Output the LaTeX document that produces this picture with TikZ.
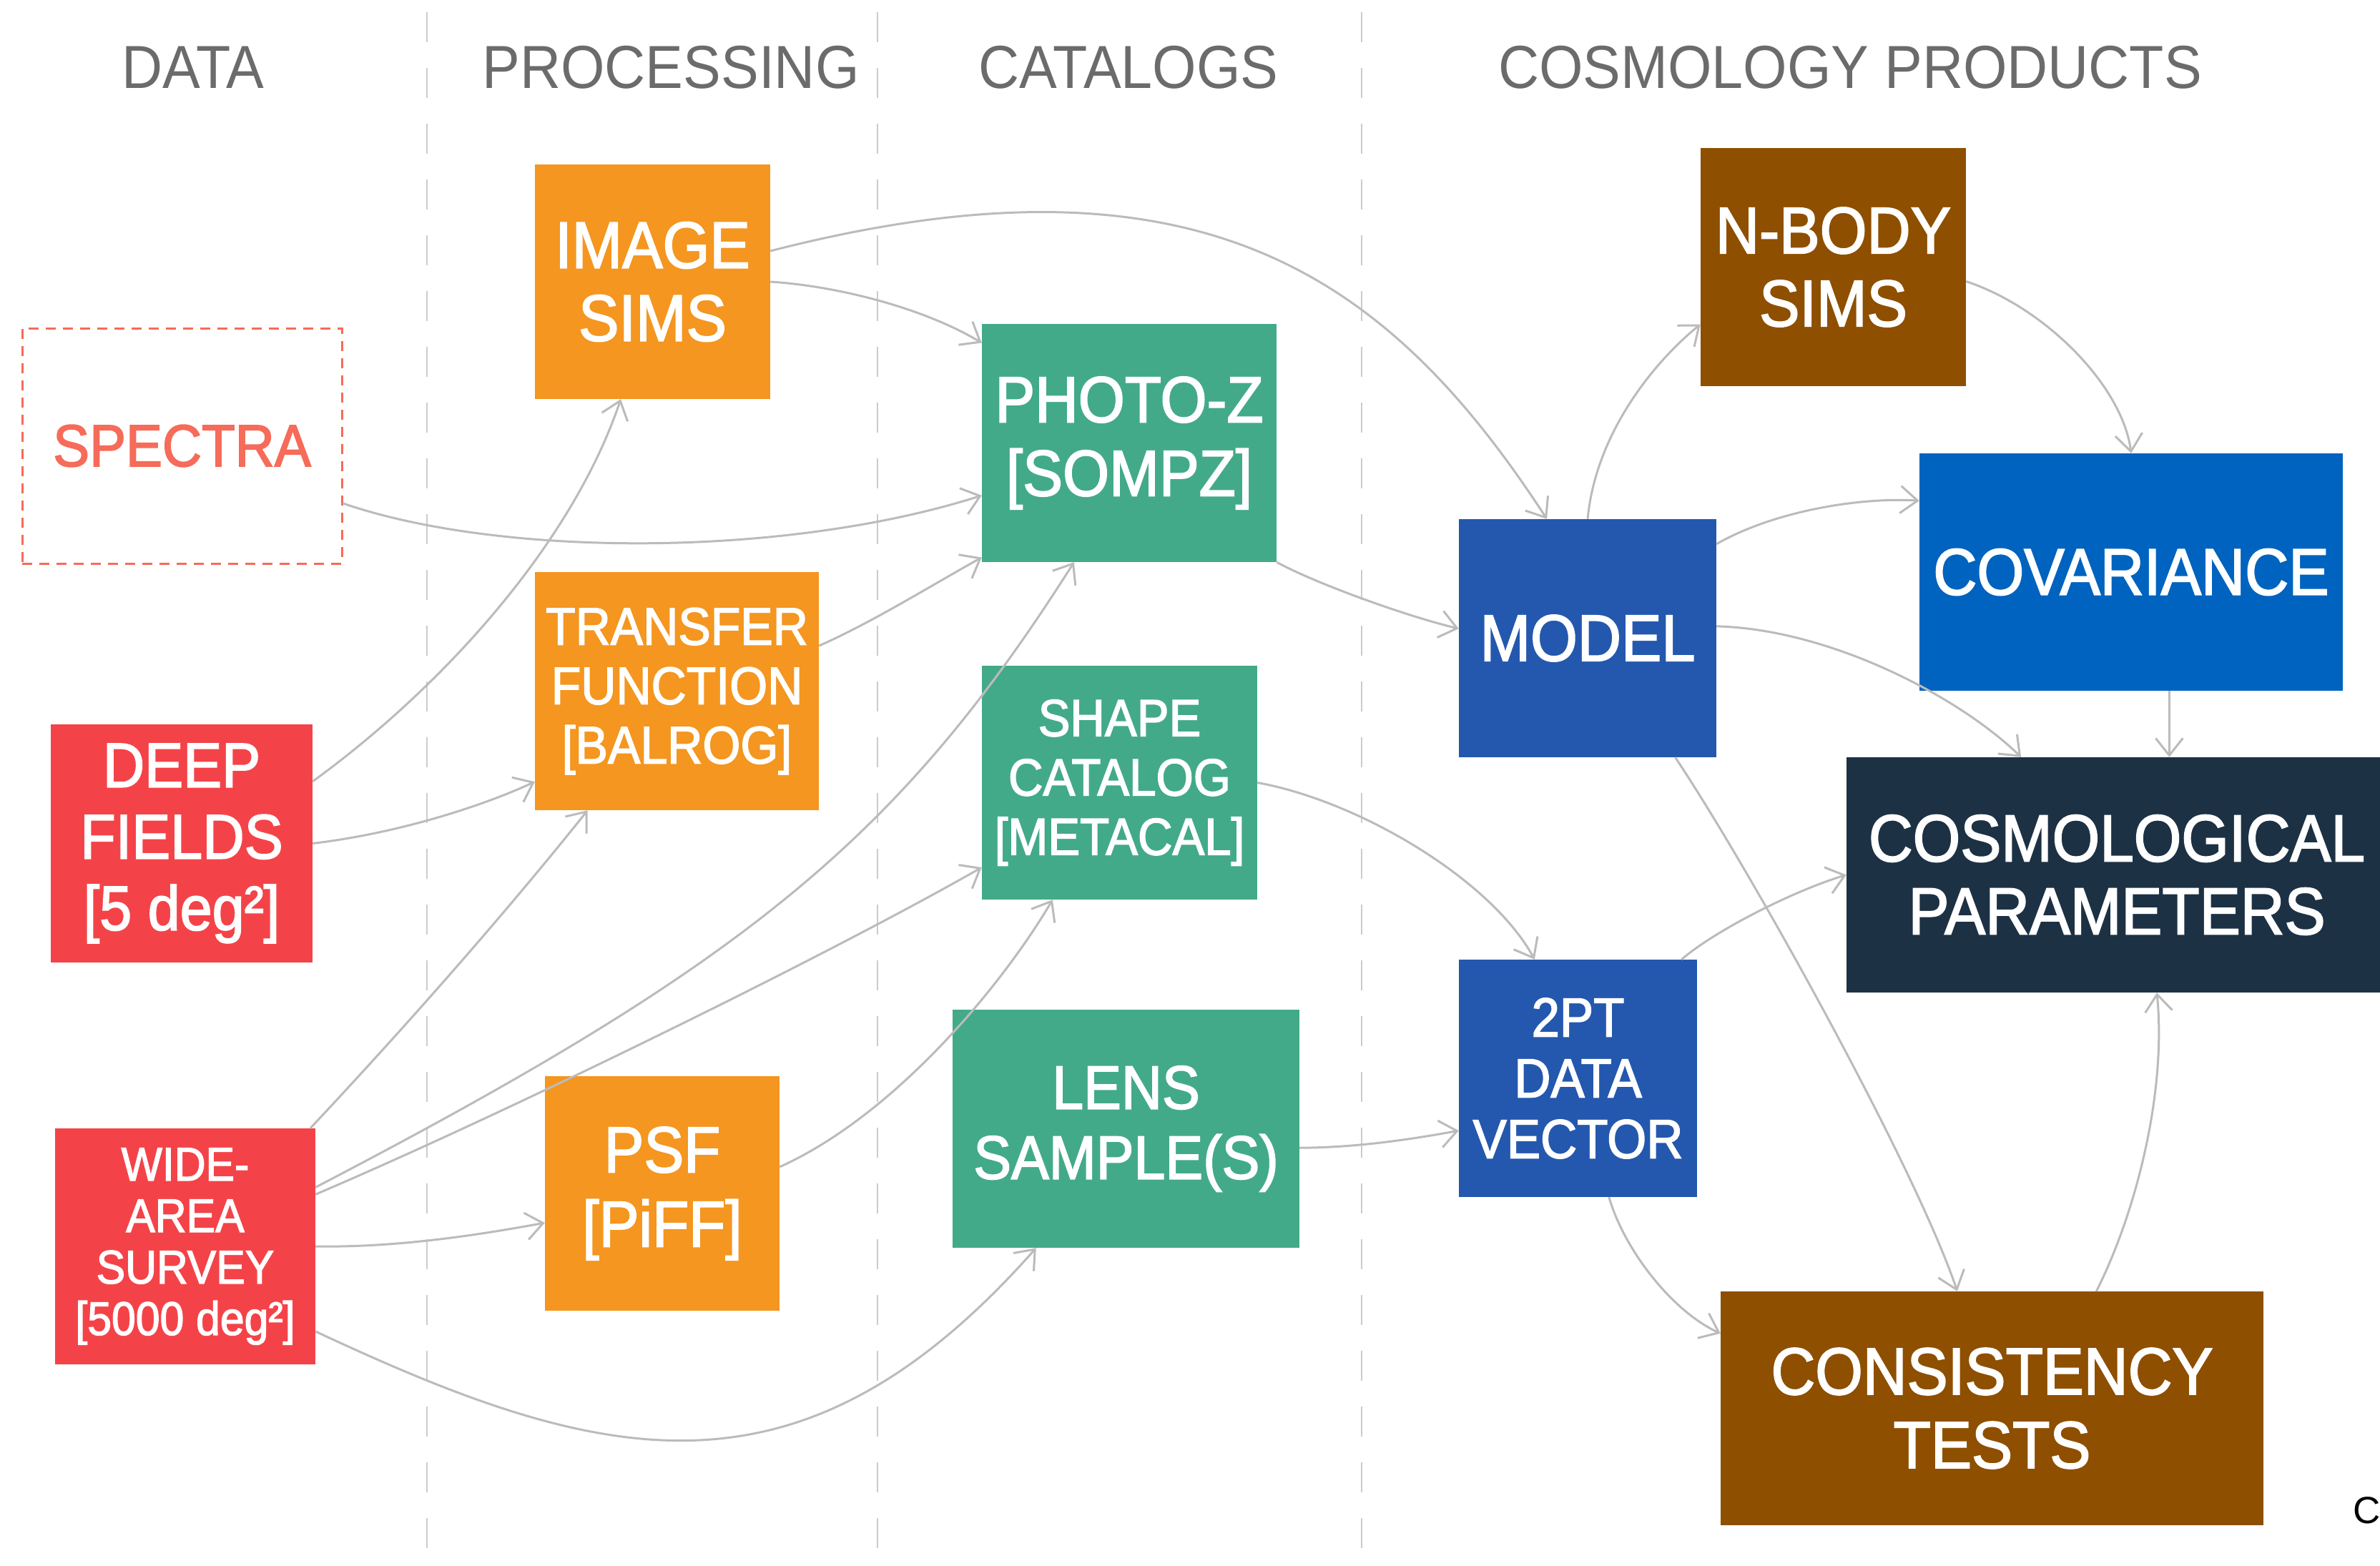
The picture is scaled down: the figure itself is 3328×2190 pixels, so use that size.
\documentclass[tikz,border=0pt]{standalone}
\usepackage{fontspec}
\setmainfont{Liberation Sans}
\newfontfamily\boxfont[FakeStretch=0.92,FakeBold=2]{Liberation Sans}
\newfontfamily\hdrfont[FakeStretch=0.93]{Liberation Sans}
\usetikzlibrary{arrows.meta,calc}

\definecolor{dataRed}{HTML}{F44348}
\definecolor{specRed}{HTML}{F66B59}
\definecolor{procOrange}{HTML}{F4961F}
\definecolor{catGreen}{HTML}{43AA89}
\definecolor{modelBlue}{HTML}{2458AE}
\definecolor{covBlue}{HTML}{0063BF}
\definecolor{simBrown}{HTML}{8E4F00}
\definecolor{paramNavy}{HTML}{1D3144}
\definecolor{hdrGray}{HTML}{6B6B6B}
\definecolor{arrowGray}{HTML}{BBBBBB}
\definecolor{sepGray}{HTML}{CCCCCC}

\begin{document}
\begin{tikzpicture}[x=1pt,y=-1pt,
  box/.style={rectangle, inner sep=0pt, align=center, text=white},
  fs/.style n args={2}{font=\boxfont\fontsize{#1}{#2}\selectfont},
  flow/.style={draw=arrowGray, line width=3pt, -{Straight Barb[length=24pt,width=38pt]}},
  sep/.style={draw=sepGray, line width=2.5pt, dash pattern=on 42pt off 36pt},
  hdr/.style={text=hdrGray, anchor=base, inner sep=0pt, font=\hdrfont\fontsize{85}{95}\selectfont}
]
\useasboundingbox (0,0) rectangle (3328,2190);
\fill[white] (0,0) rectangle (3328,2190);

% column separators
\draw[sep] (597,17) -- (597,2190);
\draw[sep] (1227,17) -- (1227,2190);
\draw[sep] (1904,17) -- (1904,2190);

% column headings
\node[hdr] (hData) at (270,123) {DATA};
\node[hdr] (hProc) at (938,123) {PROCESSING};
\node[hdr] (hCat) at (1578,123) {CATALOGS};
\node[hdr] (hCosmo) at (2587,123) {COSMOLOGY PRODUCTS};

% data
\node[rectangle, inner sep=0pt, draw=specRed, line width=3pt, dash pattern=on 14pt off 10pt,
      text=specRed, fs={83}{90},
      minimum width=447pt, minimum height=329pt] (spec) at (254.5,623.5) {SPECTRA};
\node[box, fill=dataRed, minimum width=366pt, minimum height=333pt,
      fs={88}{100}] (df) at (254,1179.5) {DEEP\\FIELDS\\{[}5 deg²{]}};
\node[box, fill=dataRed, minimum width=364pt, minimum height=330pt,
      fs={66}{72}] (wide) at (259,1743) {WIDE-\\AREA\\SURVEY\\{[}5000 deg²{]}};

% processing
\node[box, fs={92}{102}, fill=procOrange, minimum width=329pt, minimum height=328pt] (sims) at (912.5,394) {IMAGE\\SIMS};
\node[box, fill=procOrange, minimum width=397pt, minimum height=333pt,
      fs={74}{83}] (tf) at (946.5,966.5) {TRANSFER\\FUNCTION\\{[}BALROG{]}};
\node[box, fill=procOrange, minimum width=328pt, minimum height=328pt,
      fs={91}{104}] (psf) at (926,1669) {PSF\\{[}PiFF{]}};

% catalogs
\node[box, fill=catGreen, minimum width=412pt, minimum height=333pt,
      fs={91}{103}] (pz) at (1579,619.5) {PHOTO-Z\\{[}SOMPZ{]}};
\node[box, fill=catGreen, minimum width=385pt, minimum height=327pt,
      fs={73}{83}] (shape) at (1565.5,1094.5) {SHAPE\\CATALOG\\{[}METACAL{]}};
\node[box, fill=catGreen, minimum width=485pt, minimum height=333pt,
      fs={86}{98}] (lens) at (1574.5,1578.5) {LENS\\SAMPLE(S)};

% cosmology products
\node[box, fs={92}{102}, fill=modelBlue, minimum width=360pt, minimum height=333pt] (model) at (2220,892.5) {MODEL};
\node[box, fill=modelBlue, minimum width=333pt, minimum height=332pt,
      fs={77}{85}] (dv) at (2206.5,1508) {2PT\\DATA\\VECTOR};
\node[box, fs={92}{102}, fill=simBrown, minimum width=371pt, minimum height=333pt] (nbody) at (2563.5,373.5) {N-BODY\\SIMS};
\node[box, fs={92}{102}, fill=covBlue, minimum width=592pt, minimum height=332pt] (cov) at (2980,800) {COVARIANCE};
\node[box, fill=paramNavy, minimum width=756pt, minimum height=329pt,
      fs={93}{102}] (cosmo) at (2960,1223.5) {COSMOLOGICAL\\PARAMETERS};
\node[box, fill=simBrown, minimum width=759pt, minimum height=327pt,
      fs={93}{103}] (cons) at (2785.5,1969.5) {CONSISTENCY\\TESTS};

% corner caption
\node[anchor=base west, inner sep=0pt, font=\fontsize{53}{60}\selectfont] (caption) at (3290,2130) {C};

% connectors: data -> processing / catalogs
\draw[flow] ($(df.north east)!0.24!(df.south east)$) .. controls (620,960) and (800,760) .. ($(sims.south west)!0.365!(sims.south east)$);
\draw[flow] (df.east) .. controls (560,1165) and (680,1125) .. ($(tf.north west)!0.88!(tf.south west)$);
\draw[flow] ($(wide.north west)!0.98!(wide.north east)$) .. controls (565,1438) and (702,1283) .. ($(tf.south west)!0.186!(tf.south east)$);
\draw[flow] ($(wide.north east)!0.25!(wide.south east)$) .. controls (1045,1346) and (1257,1172) .. ($(pz.south west)!0.313!(pz.south east)$);
\draw[flow] ($(wide.north east)!0.28!(wide.south east)$) .. controls (700,1560) and (1150,1340) .. ($(shape.north west)!0.862!(shape.south west)$);
\draw[flow] (wide.east) .. controls (560,1745) and (680,1725) .. ($(psf.north west)!0.625!(psf.south west)$);
\draw[flow] ($(wide.north east)!0.86!(wide.south east)$) .. controls (843,2050) and (1119,2118) .. ($(lens.south west)!0.241!(lens.south east)$);
\draw[flow] ($(spec.north east)!0.742!(spec.south east)$) .. controls (700,780) and (1100,780) .. ($(pz.north west)!0.72!(pz.south west)$);

% processing -> catalogs / model
\draw[flow] (sims.east) .. controls (1170,400) and (1290,430) .. ($(pz.north west)!0.08!(pz.south west)$);
\draw[flow] ($(sims.north east)!0.369!(sims.south east)$) .. controls (1680,196) and (1943,388) .. ($(model.north west)!0.342!(model.north east)$);
\draw[flow] ($(tf.north east)!0.31!(tf.south east)$) .. controls (1220,870) and (1300,820) .. ($(pz.north west)!0.98!(pz.south west)$);
\draw[flow] ($(psf.north east)!0.387!(psf.south east)$) .. controls (1250,1560) and (1400,1380) .. ($(shape.south west)!0.257!(shape.south east)$);

% catalogs -> cosmology products
\draw[flow] (pz.south east) .. controls (1842,817) and (1968,862) .. ($(model.north west)!0.46!(model.south west)$);
\draw[flow] (shape.east) .. controls (1900,1120) and (2085,1230) .. ($(dv.north west)!0.318!(dv.north east)$);
\draw[flow] ($(lens.north east)!0.58!(lens.south east)$) .. controls (1900,1605) and (1980,1592) .. ($(dv.north west)!0.72!(dv.south west)$);

% within cosmology products
\draw[flow] (model.north) .. controls (2232,600) and (2320,500) .. ($(nbody.north west)!0.74!(nbody.south west)$);
\draw[flow] ($(model.north east)!0.105!(model.south east)$) .. controls (2480,715) and (2600,695) .. ($(cov.north west)!0.2!(cov.south west)$);
\draw[flow] ($(model.north east)!0.45!(model.south east)$) .. controls (2560,880) and (2740,975) .. ($(cosmo.north west)!0.323!(cosmo.north east)$);
\draw[flow] ($(nbody.north east)!0.56!(nbody.south east)$) .. controls (2860,430) and (2968,540) .. (cov.north);
\coordinate (covout) at ($(cov.south west)!0.59!(cov.south east)$);
\draw[flow] (covout) -- (covout |- cosmo.north);
\draw[flow] ($(dv.north west)!0.934!(dv.north east)$) .. controls (2400,1300) and (2510,1245) .. (cosmo.west);
\draw[flow] ($(model.south west)!0.84!(model.south east)$) .. controls (2443,1209) and (2677,1629) .. ($(cons.north west)!0.436!(cons.north east)$);
\draw[flow] ($(dv.south west)!0.63!(dv.south east)$) .. controls (2272,1750) and (2340,1835) .. ($(cons.north west)!0.18!(cons.south west)$);
\draw[flow] ($(cons.north west)!0.692!(cons.north east)$) .. controls (2985,1700) and (3030,1530) .. ($(cosmo.south west)!0.574!(cosmo.south east)$);
\end{tikzpicture}
\end{document}
